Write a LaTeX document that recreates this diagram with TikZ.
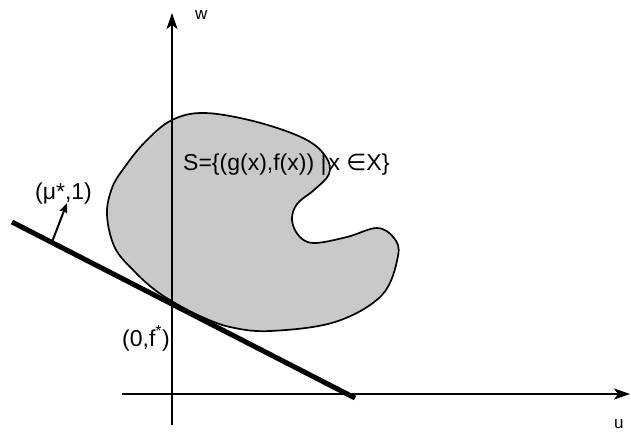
\documentclass[tikz,border=0pt]{standalone}
\usepackage{fontspec}
\setmainfont{Liberation Sans}
\newfontfamily\symfont{DejaVu Sans}
\usetikzlibrary{arrows.meta}
\tikzset{
  axis/.style={line width=1.3pt,-{Stealth[length=16pt,width=11pt,inset=4pt]}},
  blob/.style={draw=black,line width=1.7pt,fill=black!21},
  support/.style={line width=5pt,line cap=butt},
  normalvec/.style={line width=2pt,-{Stealth[length=10pt,width=8pt,inset=2pt]}},
  lbl/.style={font=\fontsize{23}{26}\selectfont,inner sep=0pt,anchor=base west},
  axlbl/.style={font=\fontsize{17}{20}\selectfont,inner sep=0pt,anchor=base west}
}
\begin{document}
\begin{tikzpicture}[x=1pt,y=-1pt]
\useasboundingbox (0,0) rectangle (631,432);
% blob
\draw[blob] plot[smooth cycle,tension=0.6] coordinates {
 (172,120) (205,113) (257,122) (305,139) (326,157) (329,174) (314,190)
 (297,204) (292,220) (299,236) (314,243) (347,237) (377,228) (394,238)
 (398,256) (382,295) (335,322) (270,331) (230,327) (200,316) (175,303)
 (155,290) (135,272) (115,248) (107,215) (112,188) (124,168) (145,142)};
% axes
\coordinate (vb) at (172,425);
\coordinate (vt) at (172,13);
\coordinate (hl) at (122,394);
\coordinate (hr) at (630,394);
\draw[axis] (vb) -- (vt);
\draw[axis] (hl) -- (hr);
% supporting line
\coordinate (sa) at (12,222);
\coordinate (sb) at (355,398);
\draw[support] (sa) -- (sb);
% normal vector
\coordinate (na) at (52,242);
\coordinate (nb) at (67,203);
\draw[normalvec] (na) -- (nb);
% labels
\node[axlbl] (w) at (195,19) {w};
\node[axlbl] (u) at (614,428) {u};
\node[lbl] (mu) at (35,199) {(μ*,1)};
\node[lbl] (f0) at (122,346) {(0,f\textsuperscript{*})};
\node[lbl] (S) at (183,170) {S=\{(g(x),f(x)) |\kern2pt x {\symfont ∈}X\}};
\end{tikzpicture}
\end{document}
